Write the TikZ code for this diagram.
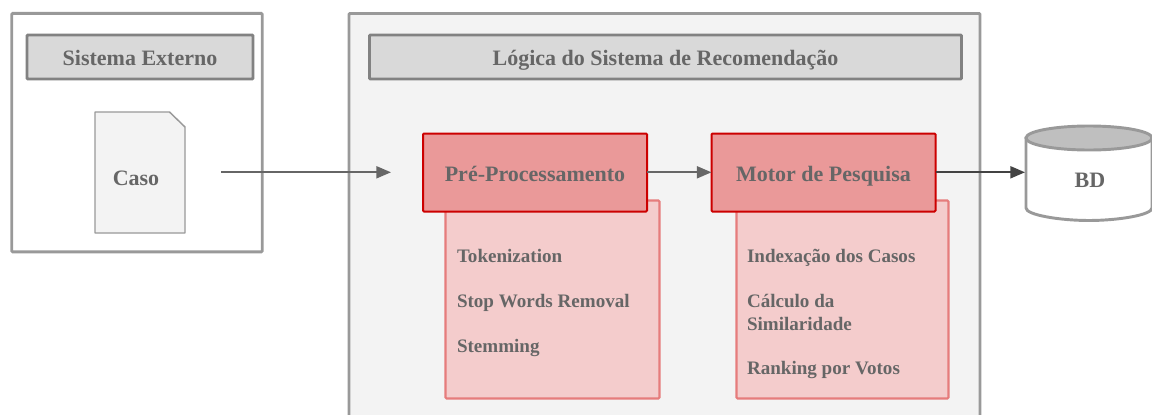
\documentclass[tikz,border=0pt]{standalone}
\usepackage{fontspec}
\setmainfont{Liberation Serif}
\usetikzlibrary{arrows.meta,positioning}
\definecolor{txtg}{HTML}{666666}
\definecolor{edgeg}{HTML}{999999}
\definecolor{headg}{HTML}{D9D9D9}
\definecolor{panelg}{HTML}{F3F3F3}
\definecolor{dbtop}{HTML}{BFBFBF}
\definecolor{redhead}{HTML}{EA9999}
\definecolor{redpale}{HTML}{F4CCCC}
\definecolor{rededge}{HTML}{CC0000}
\definecolor{rededgepale}{HTML}{E67C7C}
\definecolor{arrowg}{HTML}{666666}
\definecolor{arrowd}{HTML}{434343}
\tikzset{
  px/.style={x=0.75pt,y=-0.75pt},
  boxbase/.style={inner sep=0pt,outer sep=0pt,rounded corners=0.8pt,align=center,text=txtg,text height=16pt,text depth=3.2pt,font=\fontsize{16.5}{19}\selectfont\bfseries},
  outerbox/.style={boxbase,draw=edgeg,line width=2.2pt},
  titlebar/.style={boxbase,draw=edgeg!85!black,fill=headg,line width=2.2pt},
  redhd/.style={boxbase,draw=rededge,fill=redhead,line width=1.5pt},
  redbody/.style={boxbase,draw=rededgepale,fill=redpale,line width=1.6pt},
  itemtxt/.style={inner sep=0pt,outer sep=0pt,anchor=base west,align=left,text=txtg,font=\fontsize{14.3}{17}\selectfont\bfseries},
  conn/.style={draw=arrowg,line width=1.5pt,-{Triangle[length=11pt,width=9pt]}},
  conndark/.style={draw=arrowd,line width=1.5pt,-{Triangle[length=11pt,width=9pt]}},
}
\begin{document}
\begin{tikzpicture}[px]
\useasboundingbox (0,0) rectangle (1152,414);
\clip (0,0) rectangle (1152,414);
% outer panels
\node[outerbox,fill=white,minimum width=250.5*0.75pt,minimum height=238.5*0.75pt] (ext) at (137,132.7) {};
\node[outerbox,fill=panelg,minimum width=631*0.75pt,minimum height=440*0.75pt] (logic) at (664.5,233.5) {};
% title bars
\node[titlebar,minimum width=226*0.75pt,minimum height=44*0.75pt] (exttitle) at (140,57) {Sistema Externo};
\node[titlebar,minimum width=592*0.75pt,minimum height=44*0.75pt] (logictitle) at (665.5,57) {Lógica do Sistema de Recomendação};
% document
\draw[draw=edgeg,fill=panelg,line width=1.1pt,line join=round] (95,112) -- (169.5,112) -- (185,127) -- (185,233) -- (95,233) -- cycle;
\node[inner sep=0pt,text=txtg,font=\fontsize{16.5}{19}\selectfont\bfseries] (caso) at (136,178) {Caso};
% red bodies
\node[redbody,minimum width=214*0.75pt,minimum height=198*0.75pt] (prebody) at (552.5,299.5) {};
\node[redbody,minimum width=212*0.75pt,minimum height=198*0.75pt] (motbody) at (842.5,299.5) {};
% red heads
\node[redhd,minimum width=224*0.75pt,minimum height=78*0.75pt] (pre) at (535,172.5) {Pré-Processamento};
\node[redhd,minimum width=224*0.75pt,minimum height=78*0.75pt] (mot) at (823.5,172.5) {Motor de Pesquisa};
% items
\node[itemtxt] (t1) at (457,262) {Tokenization};
\node[itemtxt] (t2) at (457,307) {Stop Words Removal};
\node[itemtxt] (t3) at (457,352) {Stemming};
\node[itemtxt] (m1) at (747,262) {Indexação dos Casos};
\node[itemtxt] (m2) at (747,307) {Cálculo da};
\node[itemtxt] (m2b) at (747,330) {Similaridade};
\node[itemtxt] (m3) at (747,374.5) {Ranking por Votos};
% database
\draw[draw=edgeg,fill=white,line width=2.2pt] (1026,138) -- (1026,208) .. controls (1026,215) and (1060,220.5) .. (1089,220.5) .. controls (1118,220.5) and (1152,215) .. (1152,208) -- (1152,138) -- cycle;
\draw[draw=edgeg,fill=dbtop,line width=2.2pt] (1089,138) ellipse [x radius=63,y radius=12];
\node[inner sep=0pt,text=txtg,font=\fontsize{16.5}{19}\selectfont\bfseries] (bd) at (1090,180) {BD};
\coordinate (dbin) at (1025,172.3);
% connectors
\coordinate (cs) at (221,172.3);
\coordinate (ce) at (391,172.3);
\draw[conn] (cs) -- (ce);
\draw[conn] (pre.east |- 0,172.3) -- (mot.west |- 0,172.3);
\draw[conndark] (mot.east |- 0,172.3) -- (dbin);
\end{tikzpicture}
\end{document}
